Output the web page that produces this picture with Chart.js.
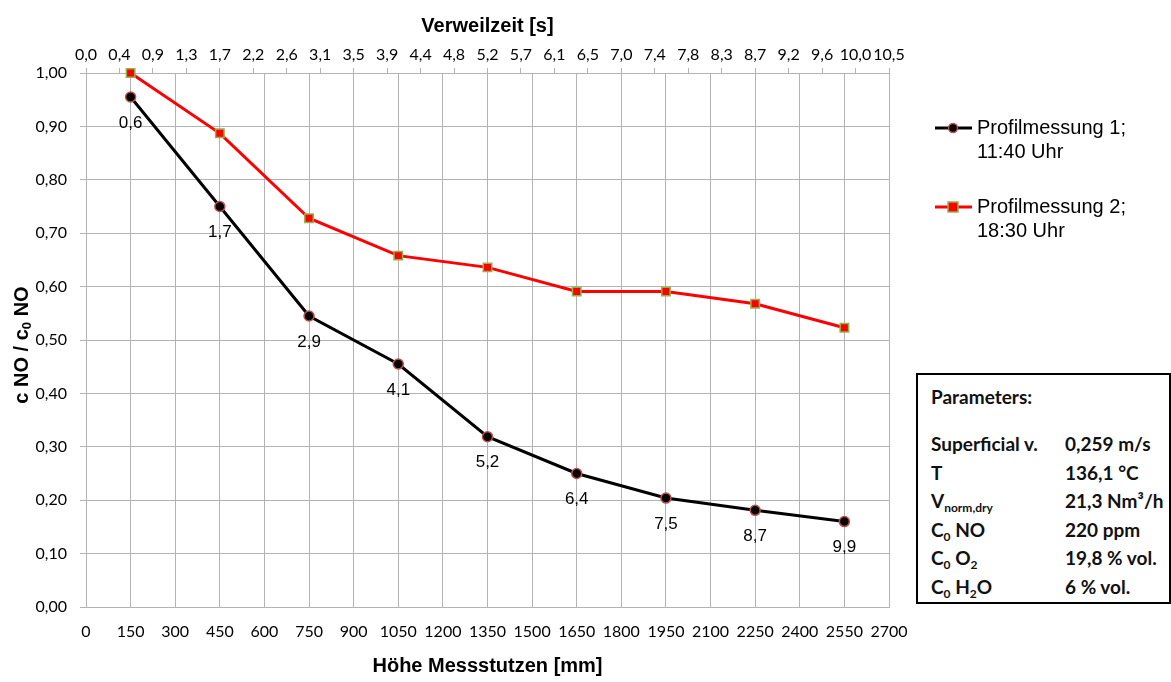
<!DOCTYPE html>
<html>
<head>
<meta charset="utf-8">
<script src="https://cdn.jsdelivr.net/npm/chart.js@4.4.0/dist/chart.umd.min.js"></script>
<style>
html, body { margin: 0; padding: 0; background: #fff; }
#wrap { position: relative; width: 1171px; height: 682px; }
#params {
  position: absolute; left: 916px; top: 373px; width: 255px; height: 231px;
  border: 2px solid #000; box-sizing: border-box; background: #fff;
  font-family: Lato, "Open Sans", sans-serif; font-weight: bold; font-size: 19px; color: #111;
}
#params .head { position: absolute; left: 13px; top: 8px; line-height: 28px; }
#params table { position: absolute; left: 13px; top: 55px; border-collapse: collapse; }
#params td { padding: 0; height: 28.6px; line-height: 28.6px; vertical-align: middle; white-space: nowrap; }
#params td.k { width: 134px; }
#params sub { font-size: 12px; vertical-align: -4px; line-height: 0; }
</style>
</head>
<body>
<div id="wrap">
  <canvas id="myChart" width="1171" height="682"></canvas>
  <div id="params">
    <div class="head">Parameters:</div>
    <table>
      <tr><td class="k">Superficial v.</td><td>0,259 m/s</td></tr>
      <tr><td class="k">T</td><td>136,1 °C</td></tr>
      <tr><td class="k">V<sub>norm,dry</sub></td><td>21,3 Nm³/h</td></tr>
      <tr><td class="k">C<sub>0</sub> NO</td><td>220 ppm</td></tr>
      <tr><td class="k">C<sub>0</sub> O<sub>2</sub></td><td>19,8 % vol.</td></tr>
      <tr><td class="k">C<sub>0</sub> H<sub>2</sub>O</td><td>6 % vol.</td></tr>
    </table>
  </div>
</div>
<script>
// Höhe der Messstutzen [mm]
var heights = [150, 450, 750, 1050, 1350, 1650, 1950, 2250, 2550];
// c NO / c0 NO
var profil1 = [0.955, 0.750, 0.545, 0.455, 0.319, 0.250, 0.204, 0.181, 0.160];
var profil2 = [1.000, 0.887, 0.728, 0.658, 0.636, 0.591, 0.591, 0.568, 0.523];
// Verweilzeit an den Punkten [s]
var timeLabels = ['0,6', '1,7', '2,9', '4,1', '5,2', '6,4', '7,5', '8,7', '9,9'];
var topTickLabels = ['0,0', '0,4', '0,9', '1,3', '1,7', '2,2', '2,6', '3,1', '3,5', '3,9', '4,4', '4,8',
  '5,2', '5,7', '6,1', '6,5', '7,0', '7,4', '7,8', '8,3', '8,7', '9,2', '9,6', '10,0', '10,5'];
var topMax = 10.5;

var legendNames = [['Profilmessung 1;', '11:40 Uhr'], ['Profilmessung 2;', '18:30 Uhr']];

function pts(ys) {
  return heights.map(function (h, i) { return { x: h, y: ys[i] }; });
}

var tickFont = { family: 'Lato, "Open Sans", sans-serif', size: 16 };
var titleFont = { family: '"Liberation Sans", Arial, sans-serif', size: 20, weight: 'bold' };
var gridColor = '#b3b3b3';

// Zeitlabels unter den Punkten von Messung 1
var pointLabels = {
  id: 'pointLabels',
  afterDatasetsDraw: function (chart) {
    var ctx = chart.ctx;
    var meta = chart.getDatasetMeta(0);
    ctx.save();
    ctx.font = '17px "Liberation Sans", Arial, sans-serif';
    ctx.fillStyle = '#000';
    ctx.textAlign = 'center';
    ctx.textBaseline = 'middle';
    meta.data.forEach(function (p, i) {
      ctx.fillText(timeLabels[i], p.x, p.y + 26);
    });
    ctx.restore();
  }
};

// y-Achsentitel mit tiefgestellter 0
var yTitle = {
  id: 'yTitle',
  afterDraw: function (chart) {
    var ctx = chart.ctx;
    var area = chart.chartArea;
    var parts = [['c NO / c', 20, 0], ['0', 13, 5], [' NO', 20, 0]];
    ctx.save();
    ctx.translate(22, (area.top + area.bottom) / 2 + 5);
    ctx.rotate(-Math.PI / 2);
    ctx.fillStyle = '#000';
    ctx.textBaseline = 'middle';
    var total = 0;
    parts.forEach(function (p) {
      ctx.font = 'bold ' + p[1] + 'px "Liberation Sans", Arial, sans-serif';
      total += ctx.measureText(p[0]).width;
    });
    var x = -total / 2;
    parts.forEach(function (p) {
      ctx.font = 'bold ' + p[1] + 'px "Liberation Sans", Arial, sans-serif';
      ctx.fillText(p[0], x, p[2]);
      x += ctx.measureText(p[0]).width;
    });
    ctx.restore();
  }
};

// Legende rechts, zweizeilig
var sideLegend = {
  id: 'sideLegend',
  afterDraw: function (chart) {
    var ctx = chart.ctx;
    var rows = [128, 207];
    ctx.save();
    chart.data.datasets.forEach(function (ds, i) {
      var y = rows[i];
      ctx.strokeStyle = ds.borderColor;
      ctx.lineWidth = 3;
      ctx.beginPath();
      ctx.moveTo(935, y);
      ctx.lineTo(972, y);
      ctx.stroke();
      ctx.fillStyle = ds.pointBackgroundColor;
      ctx.strokeStyle = ds.pointBorderColor;
      ctx.lineWidth = 1.5;
      if (ds.pointStyle === 'rect') {
        ctx.fillRect(948, y - 5, 10, 10);
        ctx.strokeRect(948, y - 5, 10, 10);
      } else {
        ctx.beginPath();
        ctx.arc(953, y, 4.5, 0, Math.PI * 2);
        ctx.fill();
        ctx.stroke();
      }
      ctx.fillStyle = '#000';
      ctx.font = '20px "Liberation Sans", Arial, sans-serif';
      ctx.textBaseline = 'middle';
      ctx.textAlign = 'left';
      ctx.fillText(legendNames[i][0], 977, y);
      ctx.fillText(legendNames[i][1], 977, y + 24);
    });
    ctx.restore();
  }
};

var ctx = document.getElementById('myChart').getContext('2d');
var myChart = new Chart(ctx, {
  type: 'line',
  data: {
    datasets: [{
      label: legendNames[0].join(' '),
      data: pts(profil1),
      borderColor: '#000000',
      borderWidth: 3,
      pointStyle: 'circle',
      pointRadius: 5,
      pointBackgroundColor: '#000000',
      pointBorderColor: '#c0504d',
      pointBorderWidth: 1.5,
      tension: 0,
      clip: false,
      xAxisID: 'x', yAxisID: 'y'
    }, {
      label: legendNames[1].join(' '),
      data: pts(profil2),
      borderColor: '#ff0000',
      borderWidth: 3,
      pointStyle: 'rect',
      pointRadius: 6,
      pointBackgroundColor: '#ff0000',
      pointBorderColor: '#8db64a',
      pointBorderWidth: 1.5,
      tension: 0,
      clip: false,
      xAxisID: 'x', yAxisID: 'y'
    }]
  },
  options: {
    responsive: false,
    animation: false,
    layout: { padding: { right: 282, left: 0, top: 0, bottom: 0 } },
    plugins: {
      legend: { display: false },
      tooltip: { enabled: false }
    },
    scales: {
      x: {
        type: 'linear',
        position: 'bottom',
        min: 0, max: 2700,
        ticks: {
          stepSize: 150, autoSkip: false, maxRotation: 0, color: '#000', font: tickFont, padding: 15,
          callback: function (v) { return String(v); }
        },
        grid: { color: gridColor, drawTicks: false },
        border: { color: gridColor },
        title: { display: true, text: 'Höhe Messstutzen [mm]', color: '#000', font: titleFont, padding: { top: 16 } },
        afterFit: function (s) { s.height = 75; }
      },
      x2: {
        type: 'linear',
        position: 'top',
        min: 0, max: topMax,
        afterBuildTicks: function (s) {
          s.ticks = topTickLabels.map(function (l, i) { return { value: i * topMax / (topTickLabels.length - 1) }; });
        },
        ticks: {
          autoSkip: false, maxRotation: 0, color: '#000', font: tickFont, padding: 4,
          callback: function (v, i) { return topTickLabels[i]; }
        },
        grid: { drawOnChartArea: false, color: gridColor, tickLength: 5 },
        border: { color: gridColor },
        title: { display: true, text: 'Verweilzeit [s]', color: '#000', font: titleFont, padding: { top: 14, bottom: 4 } },
        afterFit: function (s) { s.height = 73; }
      },
      y: {
        min: 0, max: 1,
        ticks: {
          stepSize: 0.1, color: '#000', font: tickFont, padding: 13,
          callback: function (v) { return v.toFixed(2).replace('.', ','); }
        },
        grid: { color: gridColor, tickLength: 6 },
        border: { color: gridColor },
        title: { display: false },
        afterFit: function (s) { s.width = 86; }
      }
    }
  },
  plugins: [pointLabels, yTitle, sideLegend]
});
</script>
</body>
</html>
